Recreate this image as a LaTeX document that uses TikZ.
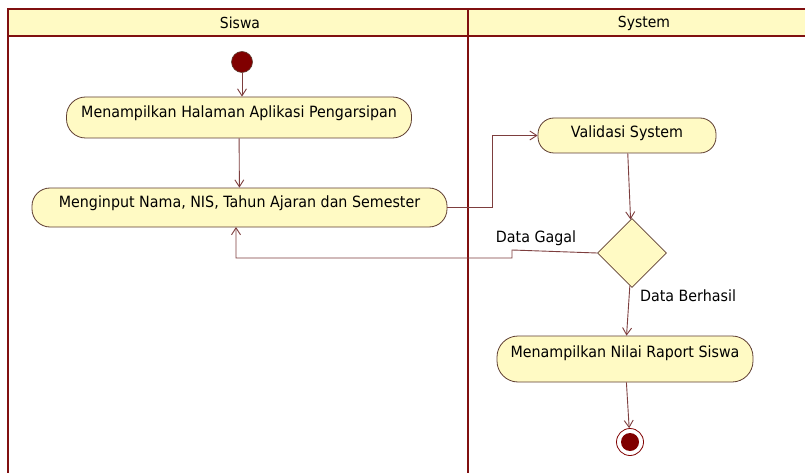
\documentclass[tikz,border=0pt]{standalone}
\usepackage{fontspec}
\setmainfont[FakeStretch=0.92]{DejaVu Sans}
\usetikzlibrary{arrows.meta,shapes.geometric}

\definecolor{lanered}{RGB}{128,16,16}
\definecolor{paleyellow}{RGB}{255,250,196}
\definecolor{flowline}{RGB}{125,62,62}
\definecolor{outline}{RGB}{95,62,50}
\definecolor{token}{RGB}{128,0,0}

\begin{document}
\begin{tikzpicture}[x=1pt,y=-1pt,
  lane/.style={draw=lanered, line width=2.4pt},
  action/.style={draw=outline, fill=paleyellow, line width=0.8pt,
    inner sep=0pt, text height=10pt, text depth=10pt,
    font=\fontsize{15.5}{17}\selectfont},
  decision/.style={diamond, draw=outline, fill=paleyellow, line width=0.8pt,
    inner sep=0pt, minimum width=69pt, minimum height=69pt},
  flow/.style={draw=flowline, line width=0.9pt,
    -{Straight Barb[length=7pt,width=9pt]}},
  guard/.style={font=\fontsize{15.5}{17}\selectfont, inner sep=0pt},
  header/.style={font=\fontsize{15.2}{17}\selectfont, inner sep=0pt}]

\useasboundingbox (0,0) rectangle (805,473);
\fill[white] (0,0) rectangle (805,473);
\begin{scope}
\clip (0,0) rectangle (805,473);
% swimlane frame with its header band
\fill[paleyellow] (8,9) rectangle (812,36);
\draw[lane] (8,480) -- (8,9) -- (812,9);
\draw[lane] (8,36) -- (812,36);
\draw[lane] (468,9) -- (468,480);
\end{scope}

\node[header] (laneA) at (240,23) {Siswa};
\node[header] (laneB) at (644,23) {System};

% initial and final states
\node[circle, fill=token, draw=outline, line width=0.6pt, minimum size=21pt, inner sep=0pt] (start) at (242,62) {};
\node[circle, fill=white, draw=token, line width=0.8pt, minimum size=27pt, inner sep=0pt] (stop) at (630,442) {};
\node[circle, fill=token, minimum size=18pt, inner sep=0pt] (stopdot) at (630,442) {};

% actions
\node[action, rounded corners=19pt, minimum width=345pt, minimum height=41pt] (n1) at (239,117.5)
  {Menampilkan Halaman Aplikasi Pengarsipan};
\node[action, rounded corners=18pt, minimum width=415pt, minimum height=39pt] (n2) at (239.5,207.5)
  {Menginput Nama, NIS, Tahun Ajaran dan Semester};
\node[action, text depth=6pt, rounded corners=16pt, minimum width=178pt, minimum height=35pt] (val) at (627,135.5)
  {Validasi System};
\node[decision] (dia) at (632,253) {};
\node[action, text depth=13pt, rounded corners=21pt, minimum width=256pt, minimum height=46pt] (n4) at (625,359)
  {Menampilkan Nilai Raport Siswa};

% guard labels
\node[guard] (gagal) at (536,238) {Data Gagal};
\node[guard] (berhasil) at (688,296) {Data Berhasil};

% bend points
\coordinate (e1) at (492,207.5);
\coordinate (g1) at (512,250);
\coordinate (g2) at (512,258);
\coordinate (g3) at (236,258);
\coordinate (g4) at (236,227);

% transitions
\draw[flow] (start) -- (start |- n1.north);
\draw[flow] (n1) -- (n2);
\draw[flow] (n2.east) -- (e1) |- (val.west);
\draw[flow] (val) -- (dia);
\draw[flow] (dia.west) -- (g1) -- (g2) -- (g3) -- (g4);
\draw[flow] (dia) -- (n4);
\draw[flow] (n4) -- (stop);
\end{tikzpicture}
\end{document}
